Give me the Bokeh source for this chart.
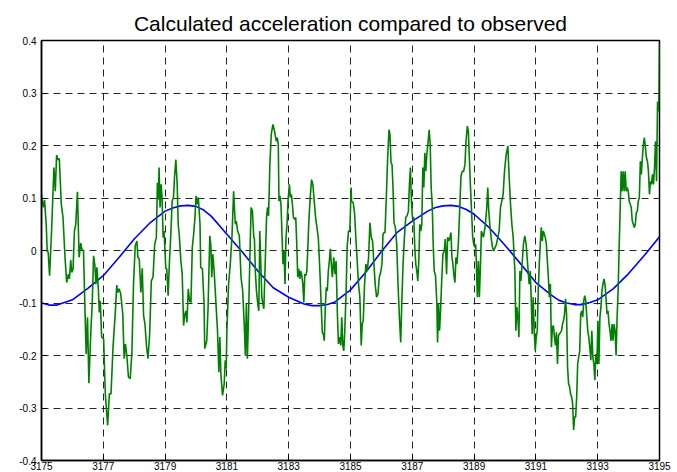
from bokeh.plotting import figure
from bokeh.models import FixedTicker, Range1d
from bokeh.embed import file_html
from bokeh.resources import INLINE

title_text = "Calculated acceleration compared to observed"

x_ticks = [3175, 3177, 3179, 3181, 3183, 3185, 3187, 3189, 3191, 3193, 3195]
x_tick_labels = ["3175", "3177", "3179", "3181", "3183", "3185", "3187", "3189", "3191", "3193", "3195"]
y_ticks = [-0.4, -0.3, -0.2, -0.1, 0, 0.1, 0.2, 0.3, 0.4]
y_tick_labels = ["-0.4", "-0.3", "-0.2", "-0.1", "0", "0.1", "0.2", "0.3", "0.4"]

# calculated acceleration (smooth model)
calc_t = [3175.0, 3175.25, 3175.5, 3176.0, 3176.5, 3177.0, 3177.5, 3178.0, 3178.5, 3179.0, 3179.25, 3179.5,
          3179.75, 3180.0, 3180.25, 3180.5, 3181.0, 3181.5, 3182.0, 3182.5, 3183.0, 3183.5, 3183.75, 3184.0, 3184.25, 3184.5,
          3185.0, 3185.5, 3186.0, 3186.5, 3187.0, 3187.5, 3187.75, 3188.0, 3188.25, 3188.5, 3188.75, 3189.0, 3189.5,
          3190.0, 3190.5, 3191.0, 3191.5, 3191.75, 3192.0, 3192.25, 3192.5, 3192.75, 3193.0, 3193.5, 3194.0, 3194.5,
          3195.0]
calc_acc = [-0.100, -0.104, -0.104, -0.094, -0.072, -0.048, -0.014, 0.022, 0.052, 0.075, 0.081, 0.085,
            0.086, 0.084, 0.077, 0.065, 0.031, -0.003, -0.039, -0.071, -0.089, -0.102, -0.105, -0.105, -0.103, -0.098,
            -0.075, -0.041, -0.002, 0.034, 0.056, 0.075, 0.082, 0.085, 0.086, 0.084, 0.078, 0.069, 0.043,
            0.010, -0.025, -0.061, -0.085, -0.095, -0.100, -0.103, -0.103, -0.099, -0.094, -0.073, -0.044, -0.010,
            0.026]

# observed acceleration
obs_t = [
    3175.000, 3175.054, 3175.098, 3175.152, 3175.185, 3175.217, 3175.261, 3175.326, 3175.402, 3175.446,
    3175.489, 3175.533, 3175.576, 3175.641, 3175.696, 3175.761, 3175.815, 3175.870, 3175.902, 3175.946,
    3175.978, 3176.022, 3176.065, 3176.109, 3176.163, 3176.217, 3176.272, 3176.304, 3176.359, 3176.413,
    3176.446, 3176.489, 3176.533, 3176.598, 3176.641, 3176.685, 3176.728, 3176.761, 3176.793, 3176.837,
    3176.870, 3176.902, 3176.946, 3177.011, 3177.065, 3177.141, 3177.196, 3177.250, 3177.315, 3177.391,
    3177.435, 3177.467, 3177.511, 3177.565, 3177.630, 3177.674, 3177.717, 3177.761, 3177.815, 3177.870,
    3177.924, 3177.978, 3178.033, 3178.087, 3178.120, 3178.163, 3178.217, 3178.261, 3178.304, 3178.348,
    3178.402, 3178.446, 3178.500, 3178.554, 3178.609, 3178.663, 3178.717, 3178.750, 3178.783, 3178.804,
    3178.837, 3178.870, 3178.902, 3178.935, 3178.967, 3179.022, 3179.054, 3179.098, 3179.141, 3179.185,
    3179.228, 3179.272, 3179.304, 3179.348, 3179.391, 3179.424, 3179.457, 3179.511, 3179.554, 3179.598,
    3179.641, 3179.674, 3179.707, 3179.750, 3179.793, 3179.837, 3179.880, 3179.924, 3179.967, 3180.000,
    3180.043, 3180.076, 3180.130,
    3180.152, 3180.207, 3180.261, 3180.283, 3180.348, 3180.391, 3180.446, 3180.478, 3180.511, 3180.543,
    3180.587, 3180.641, 3180.696, 3180.739, 3180.772, 3180.804, 3180.859, 3180.913, 3180.946, 3180.978,
    3181.000, 3181.054, 3181.109, 3181.163, 3181.217, 3181.272, 3181.304, 3181.348, 3181.402, 3181.457,
    3181.511, 3181.565, 3181.598, 3181.630, 3181.663, 3181.696, 3181.739, 3181.783, 3181.826, 3181.870,
    3181.891, 3181.924, 3181.957, 3182.000, 3182.033, 3182.065, 3182.098, 3182.130, 3182.163, 3182.196,
    3182.239, 3182.283, 3182.315, 3182.348, 3182.391, 3182.435, 3182.489, 3182.543, 3182.598, 3182.630,
    3182.663, 3182.685, 3182.717, 3182.750, 3182.783, 3182.815, 3182.848, 3182.880, 3182.913, 3182.946,
    3182.978, 3183.022, 3183.054, 3183.087, 3183.120, 3183.152, 3183.196, 3183.228, 3183.261, 3183.293,
    3183.326, 3183.359, 3183.391, 3183.424, 3183.457, 3183.489, 3183.522, 3183.554, 3183.587, 3183.620,
    3183.652, 3183.696, 3183.739, 3183.783, 3183.826, 3183.870, 3183.913, 3183.957, 3183.989, 3184.022,
    3184.054, 3184.087, 3184.120, 3184.152, 3184.185, 3184.217, 3184.250, 3184.283, 3184.315, 3184.348,
    3184.380, 3184.413, 3184.457, 3184.500, 3184.533, 3184.576, 3184.609, 3184.652, 3184.685, 3184.717,
    3184.750, 3184.783, 3184.815, 3184.859, 3184.891, 3184.935, 3184.978, 3185.022,
    3185.033, 3185.087, 3185.130, 3185.173, 3185.217, 3185.260, 3185.303, 3185.347, 3185.379, 3185.412,
    3185.455, 3185.498, 3185.542, 3185.585, 3185.628, 3185.672, 3185.715, 3185.758, 3185.802, 3185.845,
    3185.888, 3185.932, 3185.975, 3186.018, 3186.051, 3186.083, 3186.116, 3186.159, 3186.203, 3186.246,
    3186.278, 3186.311, 3186.343, 3186.376, 3186.408, 3186.452, 3186.495, 3186.538, 3186.582, 3186.625,
    3186.658, 3186.701, 3186.744, 3186.788, 3186.831, 3186.874, 3186.907, 3186.939, 3186.972, 3187.004,
    3187.048, 3187.080, 3187.113, 3187.145, 3187.178, 3187.210, 3187.243, 3187.275, 3187.308, 3187.340,
    3187.373, 3187.405, 3187.438, 3187.470, 3187.514, 3187.546, 3187.579, 3187.611, 3187.644, 3187.676,
    3187.709, 3187.752, 3187.795, 3187.817, 3187.849, 3187.882, 3187.914, 3187.947, 3187.990, 3188.034,
    3188.066, 3188.109, 3188.142, 3188.185, 3188.218, 3188.250, 3188.283, 3188.315, 3188.348, 3188.380,
    3188.413, 3188.445, 3188.489, 3188.532, 3188.575, 3188.619, 3188.662, 3188.705, 3188.738, 3188.781,
    3188.814, 3188.846, 3188.879, 3188.922, 3188.955, 3188.987, 3189.020, 3189.052, 3189.074, 3189.106,
    3189.139, 3189.171, 3189.204, 3189.236, 3189.269, 3189.301, 3189.334, 3189.366, 3189.410, 3189.442,
    3189.475, 3189.507, 3189.550, 3189.594, 3189.637, 3189.680, 3189.724, 3189.767, 3189.810, 3189.854,
    3189.897, 3189.940, 3189.984, 3190.038, 3190.092, 3190.135, 3190.179, 3190.222, 3190.265, 3190.287,
    3190.320, 3190.352, 3190.385, 3190.417, 3190.450, 3190.482, 3190.515,
    3190.553, 3190.597, 3190.640, 3190.684, 3190.716, 3190.749, 3190.782, 3190.815, 3190.847, 3190.880,
    3190.913, 3190.945, 3190.978, 3191.011, 3191.044, 3191.076, 3191.109, 3191.142, 3191.174, 3191.207,
    3191.240, 3191.273, 3191.305, 3191.338, 3191.371, 3191.403, 3191.436, 3191.469, 3191.502, 3191.534,
    3191.567, 3191.600, 3191.633, 3191.665, 3191.698, 3191.731, 3191.763, 3191.796, 3191.829, 3191.862,
    3191.894, 3191.927, 3191.960, 3191.992, 3192.025, 3192.058, 3192.091, 3192.123, 3192.156, 3192.189,
    3192.221, 3192.254, 3192.287, 3192.320, 3192.352, 3192.385, 3192.418, 3192.450, 3192.483, 3192.516,
    3192.549, 3192.581, 3192.614, 3192.647, 3192.679, 3192.712, 3192.745, 3192.778, 3192.810, 3192.843,
    3192.876, 3192.908, 3192.941, 3192.974, 3193.007, 3193.039, 3193.072, 3193.105, 3193.137, 3193.170,
    3193.203, 3193.236, 3193.268, 3193.301, 3193.334, 3193.366, 3193.399, 3193.432, 3193.465, 3193.497,
    3193.530, 3193.563, 3193.595, 3193.628, 3193.661, 3193.694, 3193.726, 3193.759, 3193.792, 3193.824,
    3193.857, 3193.890, 3193.923, 3193.955, 3193.988, 3194.021, 3194.053, 3194.086, 3194.119, 3194.152,
    3194.184, 3194.217, 3194.250, 3194.282, 3194.315, 3194.348, 3194.381, 3194.413, 3194.446, 3194.479,
    3194.511, 3194.544, 3194.577, 3194.610, 3194.642, 3194.675, 3194.708, 3194.740, 3194.773, 3194.806,
    3194.839, 3194.871, 3194.904, 3194.937, 3194.970, 3194.985, 3195.000,
]
obs_acc = [
    0.107, 0.082, 0.096, 0.050, -0.001, -0.004, -0.048, 0.037, 0.158, 0.113,
    0.182, 0.173, 0.175, 0.088, 0.063, -0.013, -0.061, -0.045, -0.054, -0.018,
    -0.042, -0.035, 0.037, 0.050, 0.112, -0.013, 0.014, 0.003, -0.001, -0.126,
    -0.197, -0.127, -0.253, -0.153, -0.102, -0.010, -0.029, -0.064, -0.032, -0.070,
    -0.118, -0.096, -0.165, -0.168, -0.273, -0.333, -0.273, -0.273, -0.184, -0.115,
    -0.066, -0.080, -0.073, -0.083, -0.121, -0.206, -0.178, -0.200, -0.241, -0.244,
    -0.197, -0.064, 0.009, 0.018, -0.013, -0.016, -0.080, -0.034, -0.124, -0.140,
    -0.184, -0.206, -0.159, -0.058, -0.051, 0.012, 0.025, 0.129, 0.097, 0.158,
    0.082, 0.126, 0.101, 0.025, 0.037, -0.034, -0.035, -0.086, -0.020, 0.031,
    0.094, 0.101, 0.139, 0.173, 0.126, 0.050, 0.031, -0.020, -0.045, -0.143,
    -0.121, -0.115, -0.137, -0.073, -0.096, -0.099, 0.006, 0.031, 0.063, 0.104,
    0.088, 0.101, 0.050,
    -0.032, -0.035, -0.102, -0.187, -0.172, -0.108, 0.028, 0.012, -0.051, -0.007,
    -0.039, -0.096, -0.153, -0.232, -0.165, -0.235, -0.276, -0.254, -0.209, -0.225,
    -0.153, -0.064, -0.026, 0.025, 0.113, 0.050, 0.056, 0.037, 0.028, -0.051,
    -0.077, -0.146, -0.200, -0.102, -0.206, -0.134, -0.026, 0.082, 0.075, 0.025,
    0.022, -0.045, -0.077, -0.102, -0.115, 0.037, -0.026, -0.089, -0.102, -0.111,
    -0.026, 0.063, 0.082, 0.066, 0.164, 0.221, 0.240, 0.227, 0.208, 0.215,
    0.202, 0.094, 0.104, 0.088, 0.031, -0.026, -0.001, -0.064, 0.025, 0.050,
    0.094, 0.126, 0.101, 0.107, 0.088, 0.063, 0.059, 0.063, 0.012, -0.051,
    -0.035, -0.054, -0.039, -0.048, -0.064, -0.099, -0.045, -0.048, -0.039, 0.006,
    0.056, 0.101, 0.135, 0.126, 0.094, 0.063, 0.044, 0.025, -0.013, -0.058,
    -0.108, -0.156, -0.159, -0.172, -0.108, -0.070, -0.077, -0.039, -0.020, 0.003,
    -0.026, -0.051, -0.013, -0.045, -0.020, -0.121, -0.178, -0.165, -0.181, -0.127,
    -0.181, -0.191, -0.153, -0.077, 0.006, 0.037, 0.037, 0.120,
    0.094, 0.091, 0.072, 0.025, -0.020, -0.064, -0.089, -0.181, -0.140, -0.134,
    -0.064, -0.026, -0.039, -0.013, 0.053, 0.025, 0.018, -0.026, -0.067, -0.089,
    -0.083, -0.051, -0.042, -0.026, 0.031, 0.034, 0.034, 0.101, 0.177, 0.230,
    0.221, 0.167, 0.164, 0.120, 0.053, 0.044, 0.012, -0.064, -0.127, -0.175,
    -0.102, -0.026, 0.025, 0.063, 0.066, 0.075, 0.126, 0.158, 0.094, 0.063,
    0.063, 0.006, -0.026, -0.039, -0.058, -0.020, 0.050, 0.037, 0.050, 0.158,
    0.120, 0.186, 0.151, 0.183, 0.208, 0.230, 0.202, 0.120, 0.088, 0.012,
    -0.039, -0.048, -0.102, -0.175, -0.102, -0.153, -0.115, -0.064, -0.007, -0.001,
    0.022, -0.045, 0.025, 0.018, 0.025, 0.034, -0.013, -0.026, -0.048, -0.061,
    -0.013, -0.026, 0.012, 0.075, 0.142, 0.151, 0.151, 0.164, 0.208, 0.237,
    0.227, 0.177, 0.126, 0.069, 0.025, 0.012, 0.006, 0.012, -0.026, -0.089,
    -0.020, -0.089, -0.032, 0.037, 0.031, 0.025, 0.037, 0.050, 0.082, 0.120,
    0.075, 0.050, 0.025, 0.006, -0.001, 0.006, 0.012, 0.025, 0.037, 0.082,
    0.094, 0.107, 0.151, 0.183, 0.199, 0.139, 0.088, 0.050, 0.025, -0.001,
    -0.039, -0.153, -0.108, -0.127, -0.165, -0.039, -0.058,
    -0.026, 0.012, 0.028, 0.012, -0.013, -0.039, -0.064, -0.039, -0.089, -0.159,
    -0.089, -0.153, -0.191, -0.165, -0.153, -0.077, -0.026, 0.012, 0.044, 0.018,
    0.037, 0.031, 0.025, 0.012, -0.020, -0.051, -0.089, -0.064, -0.184, -0.146,
    -0.143, -0.165, -0.181, -0.156, -0.216, -0.162, -0.159, -0.156, -0.153, -0.140,
    -0.134, -0.121, -0.092, -0.121, -0.222, -0.254, -0.260, -0.273, -0.279, -0.292,
    -0.342, -0.317, -0.317, -0.279, -0.216, -0.203, -0.191, -0.121, -0.115, -0.127,
    -0.096, -0.086, -0.096, -0.127, -0.153, -0.165, -0.184, -0.209, -0.153, -0.203,
    -0.216, -0.247, -0.197, -0.216, -0.134, -0.216, -0.127, -0.108, -0.077, -0.064,
    -0.054, -0.064, -0.089, -0.121, -0.115, -0.140, -0.153, -0.172, -0.140, -0.172,
    -0.140, -0.153, -0.200, -0.127, -0.077, 0.006, 0.075, 0.151, 0.113, 0.151,
    0.113, 0.151, 0.113, 0.120, 0.113, 0.094, 0.088, 0.082, 0.056, 0.050,
    0.044, 0.050, 0.072, 0.075, 0.094, 0.101, 0.170, 0.145, 0.177, 0.202,
    0.215, 0.196, 0.177, 0.170, 0.151, 0.107, 0.132, 0.126, 0.145, 0.126,
    0.158, 0.208, 0.132, 0.284, 0.265, 0.300, 0.395,
]

p = figure(width=677, height=472, output_backend="svg", toolbar_location=None,
           x_range=Range1d(3175, 3195), y_range=Range1d(-0.4, 0.4),
           min_border_left=41, min_border_right=18, min_border_top=40, min_border_bottom=0,
           background_fill_color="white", border_fill_color="white")

p.title.text = title_text
p.title.align = "center"
p.title.text_font = "Liberation Sans"
p.title.text_font_size = "21px"
p.title.text_font_style = "normal"
p.title.text_color = "black"
p.title.standoff = 11

p.line(calc_t, calc_acc, line_color="#0000ff", line_width=1.6)
p.line(obs_t, obs_acc, line_color="#008000", line_width=1.6)

p.xaxis.ticker = FixedTicker(ticks=x_ticks)
p.yaxis.ticker = FixedTicker(ticks=y_ticks)
p.xaxis.major_label_overrides = dict(zip(x_ticks, x_tick_labels))
p.yaxis.major_label_overrides = dict(zip(y_ticks, y_tick_labels))

for ax in (p.xaxis, p.yaxis):
    ax.major_tick_in = 5
    ax.major_tick_out = 0
    ax.minor_tick_line_color = None
    ax.major_tick_line_color = "black"
    ax.axis_line_color = "black"
    ax.axis_line_width = 1.5
    ax.major_label_text_font = "Liberation Sans"
    ax.major_label_text_font_size = "10px"
    ax.major_label_text_color = "black"
p.xaxis.major_label_standoff = 1
p.yaxis.major_label_standoff = 5

for g in (p.xgrid, p.ygrid):
    g.grid_line_color = "black"
    g.grid_line_alpha = 0.85
    g.grid_line_dash = "7 5"
    g.grid_line_width = 1

p.outline_line_color = "black"
p.outline_line_width = 1.5
p.outline_line_alpha = 1.0

open("out.html", "w").write(file_html(p, INLINE))
